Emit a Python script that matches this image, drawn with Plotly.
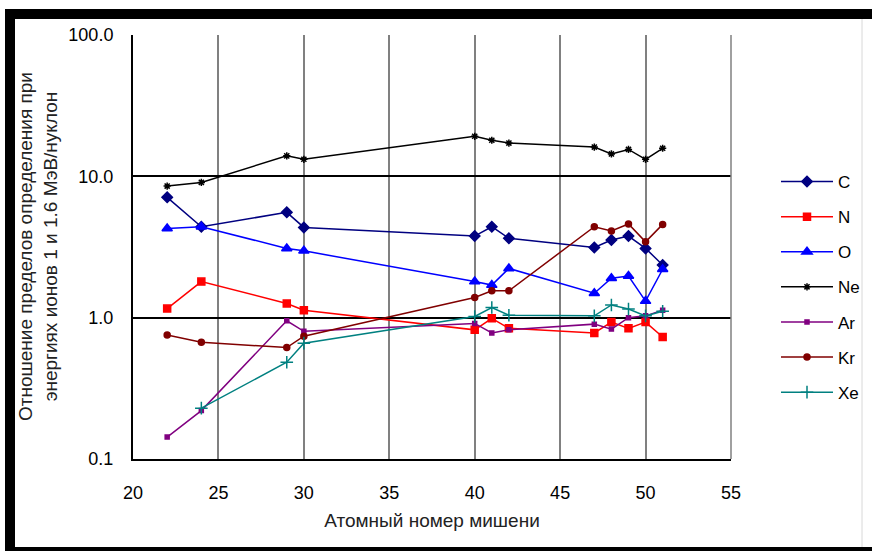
import plotly.graph_objects as go

# Atomic number of the target
z_all = [22, 24, 29, 30, 40, 41, 42, 47, 48, 49, 50, 51]
z_xe = [24, 29, 30, 40, 41, 42, 47, 48, 49, 50, 51]

# Detection-limit ratio (1 MeV/u vs 1.6 MeV/u) per projectile ion
c_vals = [7.1, 4.4, 5.56, 4.35, 3.78, 4.4, 3.64, 3.14, 3.54, 3.78, 3.09, 2.36]
n_vals = [1.16, 1.80, 1.26, 1.13, 0.82, 0.99, 0.84, 0.78, 0.93, 0.84, 0.93, 0.73]
o_vals = [4.28, 4.4, 3.09, 2.97, 1.80, 1.70, 2.23, 1.49, 1.90, 1.97, 1.31, 2.2]
ne_vals = [8.53, 9.06, 13.96, 13.2, 19.2, 18.0, 17.2, 16.1, 14.4, 15.5, 13.2, 15.8]
ar_vals = [0.143, 0.22, 0.95, 0.80, 0.91, 0.78, 0.82, 0.90, 0.83, 1.0, 1.03, 1.13]
kr_vals = [0.755, 0.67, 0.614, 0.74, 1.39, 1.55, 1.55, 4.4, 4.1, 4.6, 3.44, 4.57]
xe_vals = [0.229, 0.484, 0.66, 1.02, 1.18, 1.04, 1.03, 1.23, 1.15, 1.03, 1.11]

y_tickvals = [0.1, 1, 10, 100]
y_ticktext = ["0.1", "1.0", "10.0", "100.0"]

series = [
    ("C", z_all, c_vals, "#000080", "diamond", 8),
    ("N", z_all, n_vals, "#FF0000", "square", 7),
    ("O", z_all, o_vals, "#0000FF", "triangle-up", 9),
    ("Ne", z_all, ne_vals, "#000000", "asterisk-open", 6),
    ("Ar", z_all, ar_vals, "#800080", "square", 4),
    ("Kr", z_all, kr_vals, "#800000", "circle", 6),
    ("Xe", z_xe, xe_vals, "#008080", "cross-thin-open", 9),
]

FONT = "Liberation Sans, Arial, sans-serif"

fig = go.Figure()
for name, xs, ys, color, symbol, size in series:
    fig.add_trace(go.Scatter(
        x=xs, y=ys, name=name, mode="lines+markers",
        legendgroup=name,
        line=dict(color=color, width=1.5),
        marker=dict(symbol=symbol, size=size, color=color,
                    line=dict(color=color, width=1.5)),
    ))

# plot-area pixel box used for placing the frame decorations
L, R, T, B, W, H = 133, 141, 35, 92, 872, 551
pw, ph = W - L - R, H - T - B


def px(x):
    return (x - L) / pw


def py(y):
    return (H - B - y) / ph


shapes = [
    # outer frame
    dict(type="rect", xref="paper", yref="paper", x0=px(5), x1=px(872),
         y0=py(19), y1=py(9), fillcolor="black", line=dict(width=0)),
    dict(type="rect", xref="paper", yref="paper", x0=px(5), x1=px(15),
         y0=py(551), y1=py(9), fillcolor="black", line=dict(width=0)),
    dict(type="rect", xref="paper", yref="paper", x0=px(5), x1=px(872),
         y0=py(551), y1=py(547), fillcolor="black", line=dict(width=0)),
    dict(type="line", xref="paper", yref="paper", x0=px(862), x1=px(862),
         y0=py(547), y1=py(19), line=dict(color="#d8d8d8", width=1)),
    # right edge of the plot area
    dict(type="line", xref="paper", yref="paper", x0=1, x1=1, y0=0, y1=1,
         line=dict(color="#808080", width=1.5)),
]

fig.update_layout(
    width=W, height=H,
    margin=dict(l=L, r=R, t=T, b=B, autoexpand=False),
    paper_bgcolor="white", plot_bgcolor="white",
    font=dict(family=FONT, size=18, color="black"),
    shapes=shapes,
    showlegend=True,
    legend=dict(x=px(776), xanchor="left", y=py(164), yanchor="top",
                font=dict(size=17, color="black"), tracegroupgap=10,
                itemwidth=52, bgcolor="rgba(0,0,0,0)"),
    annotations=[
        dict(text="Отношение пределов определения при<br>энергиях ионов 1 и 1.6 МэВ/нуклон",
             xref="paper", yref="paper", x=px(38), y=0.5, xanchor="center",
             yanchor="middle", textangle=-90, showarrow=False,
             font=dict(size=19, color="#222222")),
    ],
)

fig.update_xaxes(
    range=[20, 55], dtick=5, tick0=20,
    showgrid=True, gridcolor="#808080", gridwidth=1.5,
    showline=True, linecolor="black", linewidth=2,
    ticks="", ticklabelstandoff=16, zeroline=False,
    tickfont=dict(size=18),
    title=dict(text="Атомный номер мишени", font=dict(size=19, color="#222222"), standoff=12),
)
fig.update_yaxes(
    type="log", range=[-1, 2],
    tickvals=y_tickvals, ticktext=y_ticktext,
    showgrid=True, gridcolor="black", gridwidth=2,
    showline=True, linecolor="black", linewidth=2,
    ticks="", ticklabelstandoff=14, zeroline=False,
    tickfont=dict(size=18),
)

fig.write_html("out.html")
